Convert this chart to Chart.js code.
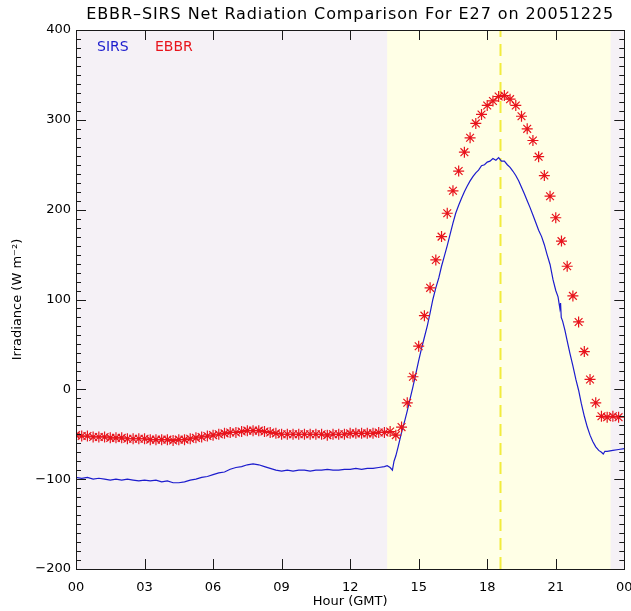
<!DOCTYPE html>
<html>
<head>
<meta charset="utf-8">
<title>EBBR-SIRS Net Radiation</title>
<script src="https://cdn.jsdelivr.net/npm/chart.js@4/dist/chart.umd.min.js"></script>
<style>
  html, body { margin: 0; padding: 0; background: #ffffff; }
  #wrap { width: 631px; height: 611px; }
</style>
</head>
<body>
<div id="wrap"><canvas id="netRad" width="631" height="611"></canvas></div>
<script>
// SIRS net radiation (W m-2), hour GMT
const sirsHours = [
  0.00, 0.25, 0.50, 0.75, 1.00, 1.25, 1.50, 1.75, 2.00, 2.25, 2.50, 2.75,
  3.00, 3.25, 3.50, 3.75, 4.00, 4.25, 4.50, 4.75, 5.00, 5.25, 5.50, 5.75,
  6.00, 6.25, 6.50, 6.75, 7.00, 7.25, 7.50, 7.75, 8.00, 8.25, 8.50, 8.75,
  9.00, 9.25, 9.50, 9.75, 10.00, 10.25, 10.50, 10.75, 11.00, 11.25, 11.50, 11.75,
  12.00, 12.25, 12.50, 12.75, 13.00, 13.25, 13.50, 13.62, 13.75, 13.85, 13.92, 14.00,
  14.10, 14.25, 14.40, 14.50, 14.62, 14.75, 14.88, 15.00, 15.12, 15.25, 15.38, 15.50,
  15.62, 15.75, 15.88, 16.00, 16.12, 16.25, 16.38, 16.50, 16.62, 16.75, 16.88, 17.00,
  17.12, 17.25, 17.38, 17.50, 17.62, 17.75, 17.88, 18.00, 18.12, 18.25, 18.38, 18.50,
  18.62, 18.75, 18.88, 19.00, 19.12, 19.25, 19.38, 19.50, 19.62, 19.75, 19.88, 20.00,
  20.12, 20.25, 20.38, 20.50, 20.62, 20.75, 20.88, 21.00, 21.10, 21.18, 21.21, 21.24,
  21.30, 21.40, 21.50, 21.62, 21.75, 21.88, 22.00, 22.12, 22.25, 22.38, 22.50, 22.62,
  22.75, 22.88, 23.00, 23.08, 23.15, 23.25, 23.50, 23.75, 24.00
];
const sirsValues = [
  -98, -99, -98, -100, -99, -100, -101, -100, -101, -100, -101, -102,
  -101, -102, -101, -103, -102, -104, -104, -103, -101, -100, -98, -97,
  -95, -93, -92, -89, -87, -86, -84, -83, -84, -86, -88, -90,
  -91, -90, -91, -90, -90, -91, -90, -90, -89, -90, -90, -89,
  -89, -88, -89, -88, -88, -87, -86, -85, -87, -90, -80, -74,
  -64, -48, -34, -24, -11, 3, 18, 32, 45, 58, 71, 85,
  100, 113, 124, 137, 148, 160, 173, 185, 196, 205, 213, 220,
  226, 232, 237, 241, 244, 249, 250, 253, 254, 257, 255, 258,
  254, 254, 250, 247, 243, 238, 232, 225, 218, 210, 202, 194,
  186, 177, 170, 161, 150, 139, 122, 110, 103, 90, 96, 80,
  76, 66, 54, 40, 26, 11, -1, -16, -30, -42, -51, -58,
  -64, -68, -70, -72, -69, -69, -68, -67, -66
];

// EBBR net radiation, 15-minute averages
const ebbrHours = [
  0.00, 0.25, 0.50, 0.75, 1.00, 1.25, 1.50, 1.75, 2.00, 2.25, 2.50, 2.75,
  3.00, 3.25, 3.50, 3.75, 4.00, 4.25, 4.50, 4.75, 5.00, 5.25, 5.50, 5.75,
  6.00, 6.25, 6.50, 6.75, 7.00, 7.25, 7.50, 7.75, 8.00, 8.25, 8.50, 8.75,
  9.00, 9.25, 9.50, 9.75, 10.00, 10.25, 10.50, 10.75, 11.00, 11.25, 11.50, 11.75,
  12.00, 12.25, 12.50, 12.75, 13.00, 13.25, 13.50, 13.75, 14.00, 14.25, 14.50, 14.75,
  15.00, 15.25, 15.50, 15.75, 16.00, 16.25, 16.50, 16.75, 17.00, 17.25, 17.50, 17.75,
  18.00, 18.25, 18.50, 18.75, 19.00, 19.25, 19.50, 19.75, 20.00, 20.25, 20.50, 20.75,
  21.00, 21.25, 21.50, 21.75, 22.00, 22.25, 22.50, 22.75, 23.00, 23.25, 23.50, 23.75
];
const ebbrValues = [
  -51, -52, -52, -53, -53, -53, -54, -54, -54, -55, -55, -55,
  -55, -56, -56, -56, -56, -57, -56, -56, -55, -54, -53, -52,
  -51, -50, -49, -48, -48, -47, -46, -46, -46, -47, -48, -49,
  -50, -50, -50, -50, -50, -50, -50, -50, -51, -50, -50, -50,
  -49, -49, -49, -49, -49, -48, -48, -47, -51, -42, -15, 14,
  48, 82, 113, 144, 170, 196, 221, 243, 264, 280, 296, 306,
  316, 321, 326, 327, 323, 316, 304, 290, 277, 259, 238, 215,
  191, 165, 137, 104, 75, 42, 11, -15, -30, -31, -30, -31
];

// axis ticks
const xTickHours = [0, 3, 6, 9, 12, 15, 18, 21, 24];
const xTickLabels = ['00', '03', '06', '09', '12', '15', '18', '21', '00'];
const yTickValues = [-200, -100, 0, 100, 200, 300, 400];
const yTickLabels = ['\u2212200', '\u2212100', '0', '100', '200', '300', '400'];

// daylight window and solar noon (hours GMT)
const sunrise = 13.62;
const sunset = 23.4;
const solarNoon = 18.55;

const TITLE = 'EBBR\u2013SIRS Net Radiation Comparison For E27 on 20051225';
const FONT = '"DejaVu Sans", "Liberation Sans", sans-serif';
const BLUE = 'rgb(28, 28, 205)';
const RED = 'rgb(232, 20, 28)';

const plotDecor = {
  id: 'plotDecor',
  beforeDraw(chart) {
    const { ctx, chartArea: a, scales: { x } } = chart;
    const xs = x.getPixelForValue(sunrise);
    const xe = x.getPixelForValue(sunset);
    ctx.save();
    ctx.fillStyle = '#f5f1f6';
    ctx.fillRect(a.left, a.top, a.right - a.left, a.bottom - a.top);
    ctx.fillStyle = '#ffffe6';
    ctx.fillRect(xs, a.top, xe - xs, a.bottom - a.top);

    // title and legend text
    ctx.fillStyle = '#000';
    ctx.font = '16px ' + FONT;
    ctx.letterSpacing = '0.9px';
    ctx.textAlign = 'center';
    ctx.textBaseline = 'middle';
    ctx.fillText(TITLE, (a.left + a.right) / 2, 15);
    ctx.letterSpacing = '0px';
    ctx.font = '14px ' + FONT;
    ctx.textAlign = 'left';
    ctx.fillStyle = BLUE;
    ctx.fillText('SIRS', 97, 47);
    ctx.fillStyle = RED;
    ctx.fillText('EBBR', 155, 47);
    ctx.restore();
  },
  beforeDatasetsDraw(chart) {
    const { ctx, chartArea: a, scales: { x } } = chart;
    const xn = Math.round(x.getPixelForValue(solarNoon)) + 0.5;
    ctx.save();
    ctx.strokeStyle = 'rgb(242, 236, 60)';
    ctx.lineWidth = 2;
    ctx.setLineDash([12, 7]);
    ctx.beginPath();
    ctx.moveTo(xn, a.bottom);
    ctx.lineTo(xn, a.top);
    ctx.stroke();
    ctx.restore();
  },
  afterDatasetsDraw(chart) {
    const { ctx, chartArea: a, scales: { x, y } } = chart;
    ctx.save();
    ctx.strokeStyle = '#1a1a1a';
    ctx.lineWidth = 1;
    ctx.beginPath();
    // y ticks every 10, longer at each 100
    for (let v = -200; v <= 400; v += 10) {
      const py = Math.round(y.getPixelForValue(v)) + 0.5;
      const len = v % 100 === 0 ? 10 : 5;
      ctx.moveTo(a.left, py); ctx.lineTo(a.left + len, py);
      ctx.moveTo(a.right, py); ctx.lineTo(a.right - len, py);
    }
    xTickHours.forEach(h => {
      const px = Math.round(x.getPixelForValue(h)) + 0.5;
      ctx.moveTo(px, a.bottom); ctx.lineTo(px, a.bottom - 10);
      ctx.moveTo(px, a.top); ctx.lineTo(px, a.top + 10);
    });
    ctx.stroke();
    ctx.strokeRect(Math.round(a.left) + 0.5, Math.round(a.top) + 0.5,
      Math.round(a.right - a.left), Math.round(a.bottom - a.top));
    ctx.restore();
  }
};

const tickFont = { family: FONT, size: 13 };

new Chart(document.getElementById('netRad'), {
  type: 'scatter',
  data: {
    datasets: [
      {
        label: 'SIRS',
        data: sirsHours.map((h, i) => ({ x: h, y: sirsValues[i] })),
        showLine: true,
        borderColor: BLUE,
        borderWidth: 1.2,
        pointRadius: 0,
        tension: 0,
        order: 2
      },
      {
        label: 'EBBR',
        data: ebbrHours.map((h, i) => ({ x: h, y: ebbrValues[i] })),
        showLine: false,
        pointStyle: 'star',
        pointRadius: 5.5,
        borderColor: RED,
        backgroundColor: RED,
        pointBorderWidth: 1.2,
        order: 1
      }
    ]
  },
  options: {
    responsive: false,
    animation: false,
    devicePixelRatio: 1,
    layout: { padding: { top: 30, right: 3, left: 0, bottom: 0 } },
    plugins: {
      legend: { display: false },
      tooltip: { enabled: false },
      title: { display: false }
    },
    scales: {
      x: {
        type: 'linear',
        min: 0,
        max: 24,
        afterBuildTicks: axis => { axis.ticks = xTickHours.map(v => ({ value: v })); },
        afterFit: s => { s.height = 42; s.paddingLeft = 0; s.paddingRight = 0; },
        ticks: {
          autoSkip: false,
          maxRotation: 0,
          padding: 11,
          color: '#000',
          font: tickFont,
          callback: (v, i) => xTickLabels[i]
        },
        grid: { display: false, drawTicks: false },
        border: { display: false },
        title: {
          display: true,
          text: 'Hour (GMT)',
          color: '#000',
          font: tickFont,
          padding: { top: 0, bottom: 2 }
        }
      },
      y: {
        min: -200,
        max: 400,
        afterBuildTicks: axis => { axis.ticks = yTickValues.map(v => ({ value: v })); },
        afterFit: s => { s.width = 76; s.paddingTop = 0; s.paddingBottom = 0; },
        ticks: {
          padding: 5,
          color: '#000',
          font: tickFont,
          callback: (v, i) => yTickLabels[i]
        },
        grid: { display: false, drawTicks: false },
        border: { display: false },
        title: {
          display: true,
          text: 'Irradiance (W m\u207B\u00B2)',
          color: '#000',
          font: tickFont,
          padding: { top: 10, bottom: 0 }
        }
      }
    }
  },
  plugins: [plotDecor]
});
</script>
</body>
</html>
